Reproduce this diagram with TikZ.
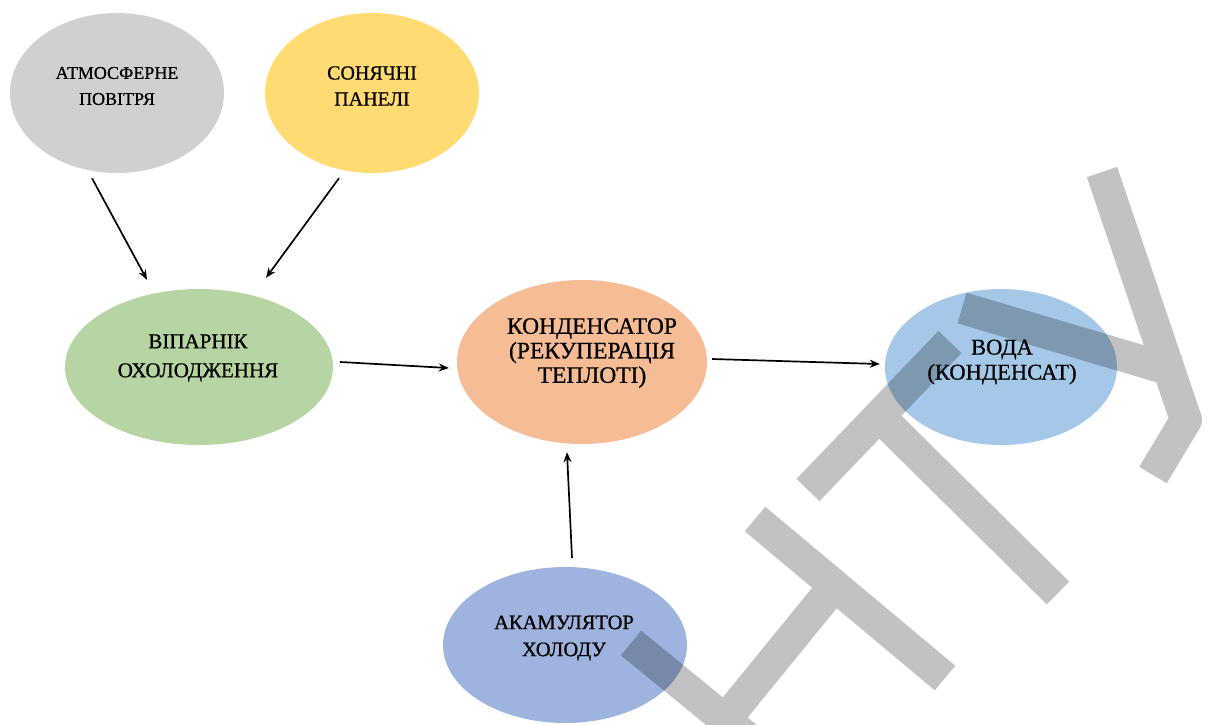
\documentclass[tikz,border=0pt]{standalone}
\usepackage{fontspec}
\setmainfont{Liberation Serif}
\newfontfamily\capfont{Liberation Serif}[FakeBold=0.7]
\usetikzlibrary{arrows.meta,shapes.geometric}
\definecolor{AirClr}{RGB}{208,208,208}
\definecolor{SunClr}{RGB}{255,219,114}
\definecolor{EvapClr}{RGB}{182,213,162}
\definecolor{CondClr}{RGB}{245,188,150}
\definecolor{WaterClr}{RGB}{166,200,232}
\definecolor{AccClr}{RGB}{158,179,222}

\begin{document}
\begin{tikzpicture}[x=1pt,y=-1pt,
  bubble/.style={ellipse,draw=none,inner sep=0pt},
  caption/.style 2 args={font=\capfont\fontsize{#1}{#2}\selectfont,align=center,inner sep=0pt},
  flow/.style={-{Stealth[length=10pt,width=8pt]},line width=1.7pt}]
\useasboundingbox (0,0) rectangle (1207,724);

\node[bubble,fill=AirClr,minimum width=214pt,minimum height=160pt] (air) at (117,93) {};
\node[bubble,fill=SunClr,minimum width=214pt,minimum height=160pt] (sun) at (372,93) {};
\node[bubble,fill=EvapClr,minimum width=268pt,minimum height=156pt] (evap) at (199,367) {};
\node[bubble,fill=CondClr,minimum width=250pt,minimum height=164pt] (cond) at (582,362) {};
\node[bubble,fill=WaterClr,minimum width=232pt,minimum height=156pt] (water) at (1001,367) {};
\node[bubble,fill=AccClr,minimum width=244pt,minimum height=156pt] (acc) at (565,645) {};

\node[caption={18}{26}] (air-t) at (117,86) {АТМОСФЕРНЕ\\ПОВІТРЯ};
\node[caption={20}{26}] (sun-t) at (372,86) {СОНЯЧНІ\\ПАНЕЛІ};
\node[caption={21}{29}] (evap-t) at (198,358) {ВІПАРНІК\\ОХОЛОДЖЕННЯ};
\node[caption={23.5}{24.5}] (cond-t) at (592,353) {КОНДЕНСАТОР\\(РЕКУПЕРАЦІЯ\\ТЕПЛОТІ)};
\node[caption={22.5}{25}] (water-t) at (1002,362) {ВОДА\\(КОНДЕНСАТ)};
\node[caption={20.5}{27}] (acc-t) at (564,638) {АКАМУЛЯТОР\\ХОЛОДУ};

\draw[flow] ([xshift=-25pt,yshift=-5pt]air.south) -- ([xshift=-52pt,yshift=9pt]evap.north);
\draw[flow] ([xshift=-33pt,yshift=-5pt]sun.south) -- ([xshift=67pt,yshift=11pt]evap.north);
\draw[flow] ([xshift=7pt,yshift=5pt]evap.east) -- ([xshift=-8pt,yshift=-6pt]cond.west);
\draw[flow] ([xshift=5pt,yshift=3pt]cond.east) -- ([xshift=-5pt,yshift=3pt]water.west);
\draw[flow] ([xshift=7pt,yshift=9pt]acc.north) -- ([xshift=-15pt,yshift=-8pt]cond.south);

% watermark
\begin{scope}
\clip (0,0) rectangle (1207,724);
\draw[line width=32pt,opacity=0.24,line join=round]
  (631,643) -- (800,781)
  (725,720) -- (835,585)
  (755,519) -- (945,678)
  (808,490) -- (950,342)
  (879,416) -- (1058,593)
  (962,308) -- (1178,372)
  (1102,172) -- (1186,420) -- (1153,475);
\end{scope}
\end{tikzpicture}
\end{document}
